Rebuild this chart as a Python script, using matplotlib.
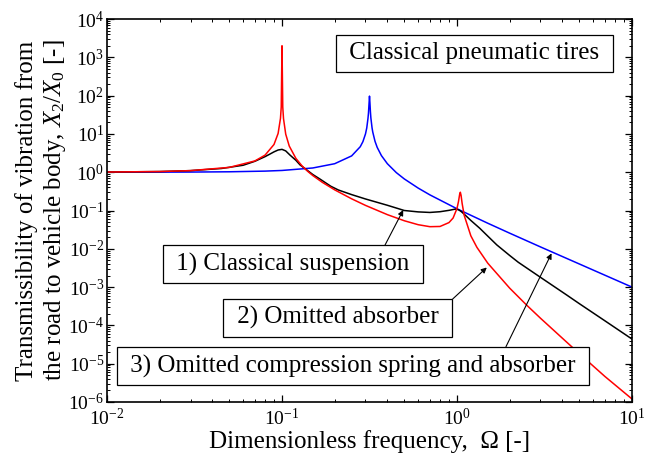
import numpy as np
import matplotlib
matplotlib.use("Agg")
import matplotlib.pyplot as plt
from matplotlib.ticker import LogLocator, NullFormatter

plt.rcParams['font.family'] = ['Liberation Serif', 'DejaVu Serif']
plt.rcParams['mathtext.fontset'] = 'custom'
plt.rcParams['mathtext.rm'] = 'Liberation Serif'
plt.rcParams['mathtext.it'] = 'Liberation Serif:italic'

#### curves ###########################################
# 1) classical suspension (black)
black_w = [0.01, 0.02, 0.03, 0.045, 0.06, 0.07, 0.08, 0.085, 0.09, 0.095, 0.1,
           0.105, 0.111, 0.12, 0.127, 0.137, 0.15, 0.165, 0.19, 0.21, 0.25, 0.3,
           0.4, 0.5, 0.6, 0.7, 0.8, 0.9, 0.97, 1.0, 1.03, 1.06, 1.1, 1.2, 1.35,
           1.5, 1.69, 2.0, 2.24, 3, 4.24, 5, 7, 10]
black_t = [1.01, 1.04, 1.10, 1.25, 1.52, 1.93, 2.55, 2.95, 3.4, 3.8, 3.95,
           3.6, 2.81, 2.05, 1.54, 1.19, 0.87, 0.66, 0.43, 0.343, 0.26, 0.20,
           0.137, 0.10, 0.092, 0.089, 0.093, 0.101, 0.108, 0.108, 0.102, 0.093,
           0.080, 0.055, 0.0343, 0.0214, 0.0126, 6.7e-3, 4.45e-3, 1.8e-3,
           6.2e-4, 3.7e-4, 1.32e-4, 4.4e-5]

# 2) omitted absorber (red)
red_w = [0.01, 0.02, 0.03, 0.05, 0.07, 0.08, 0.09, 0.095, 0.098, 0.099, 0.1,
         0.101, 0.102, 0.105, 0.11, 0.12, 0.13, 0.14, 0.15, 0.17, 0.2, 0.25,
         0.3, 0.4, 0.5, 0.6, 0.7, 0.8, 0.9, 0.95, 1.0, 1.02, 1.035, 1.045,
         1.055, 1.07, 1.1, 1.2, 1.3, 1.5, 2, 2.5, 3, 5, 7, 10]
red_t = [1.01, 1.042, 1.10, 1.336, 1.97, 2.79, 5.30, 10.3, 25.5, 50.7, 2000,
         50.2, 25.0, 9.86, 4.82, 2.30, 1.47, 1.06, 0.817, 0.544, 0.346, 0.202,
         0.136, 0.078, 0.054, 0.0426, 0.0378, 0.0383, 0.0484, 0.0636, 0.113,
         0.172, 0.26, 0.30, 0.249, 0.153, 0.0742, 0.0218, 0.0109, 0.0042,
         9.4e-4, 3.39e-4, 1.54e-4, 1.83e-5, 4.65e-6, 1.2e-6]

# 3) omitted compression spring and absorber (blue)
blue_w = [0.01, 0.03, 0.05, 0.08, 0.1, 0.15, 0.2, 0.25, 0.28, 0.29, 0.3, 0.305,
          0.31, 0.312, 0.314, 0.3162, 0.318, 0.32, 0.322, 0.327, 0.33, 0.34,
          0.35, 0.37, 0.4, 0.45, 0.5, 0.6, 0.7, 1.0, 1.5, 2, 3, 5, 10]
blue_t = [1.0, 1.009, 1.026, 1.068, 1.111, 1.29, 1.667, 2.667, 4.63, 6.29,
          10.0, 14.3, 25.6, 35.0, 57.0, 97, 65.0, 38.2, 26.1, 14.4, 11.24,
          6.41, 4.44, 2.71, 1.667, 0.976, 0.667, 0.385, 0.256, 0.111, 0.0465,
          0.0256, 0.0112, 0.00402, 0.001]

labels = ["1) Classical suspension", "2) Omitted absorber",
          "3) Omitted compression spring and absorber"]
# box centres in axes fraction, arrow ends in data coords
box_pos = [(0.354, 0.360), (0.4395, 0.220), (0.4686, 0.093)]
arrow_tail = [(0.388, 0.01256), (0.945, 4.89e-4), (1.905, 2.78e-5)]
arrow_tip = [(0.493, 0.103), (1.48, 3.25e-3), (3.47, 7.6e-3)]


fig = plt.figure(figsize=(6.53, 4.55), dpi=100)
ax = fig.add_axes([0.1639, 0.1165, 0.8039, 0.8417])

ax.plot(blue_w, blue_t, color='blue', lw=1.1)
ax.plot(black_w, black_t, color='black', lw=1.1)
ax.plot(red_w, red_t, color='red', lw=1.1)

ax.set_xscale('log')
ax.set_yscale('log')
ax.set_xlim(1e-2, 1e1)
ax.set_ylim(1e-6, 1e4)

ax.yaxis.set_major_locator(LogLocator(base=10, numticks=20))
ax.yaxis.set_minor_locator(LogLocator(base=10, subs=np.arange(2, 10), numticks=200))
ax.yaxis.set_minor_formatter(NullFormatter())
ax.xaxis.set_minor_locator(LogLocator(base=10, subs=np.arange(2, 10), numticks=200))
ax.xaxis.set_minor_formatter(NullFormatter())

ax.tick_params(which='both', direction='in', top=True, right=True, labelsize=14)
ax.tick_params(which='major', length=5, width=0.9)
ax.tick_params(which='minor', length=2.5, width=0.7)
ax.tick_params(axis='x', pad=4)
ax.tick_params(axis='y', pad=2)
for s in ax.spines.values():
    s.set_linewidth(1.2)

ax.set_xlabel("Dimensionless frequency,  \u03a9 [-]", fontsize=18, labelpad=1)
ax.set_ylabel("Transmissibility of vibration from\nthe road to vehicle body, $X_2/X_0$ [-]",
              fontsize=18, labelpad=0, linespacing=1.25)

box = dict(boxstyle='square,pad=0.3', fc='white', ec='black', lw=0.9)
ax.text(0.700, 0.911, " Classical pneumatic tires ", transform=ax.transAxes,
        ha='center', va='center', fontsize=18, bbox=box)

for lab, pos, tail, tip in zip(labels, box_pos, arrow_tail, arrow_tip):
    ax.annotate('', xy=tip, xytext=tail,
                arrowprops=dict(arrowstyle='-|>', lw=0.8, color='black',
                                mutation_scale=8, shrinkA=0, shrinkB=0))
    ax.text(pos[0], pos[1], " " + lab + " ", transform=ax.transAxes,
            ha='center', va='center', fontsize=18, bbox=box, zorder=5)

fig.savefig("out.png", dpi=100)
